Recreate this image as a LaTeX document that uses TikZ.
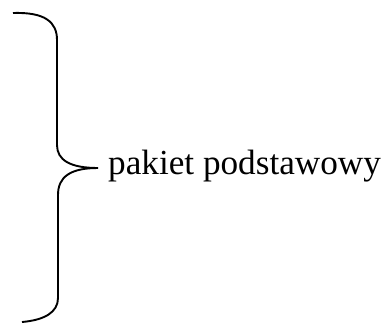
\documentclass[tikz,border=0pt]{standalone}
\usepackage{fontspec}
\setmainfont{Liberation Serif}
\usetikzlibrary{positioning}
\begin{document}
\begin{tikzpicture}[x=1pt,y=-1pt]
        \useasboundingbox (0,0) rectangle (385,322);
        \coordinate (tip) at (98,168);
        \draw[line width=1.9pt] (13,13) .. controls (45,12) and (57,22) .. (57,40) -- (57,145)
            .. controls (57,160) and (70,168) .. (tip)
            .. controls (70,168) and (58,177) .. (58,195) -- (58,298)
            .. controls (58,312) and (45,320) .. (22,322);
        \node[anchor=base west,inner sep=0pt,font=\fontsize{35.2}{40}\selectfont] (label) at (108,174) {pakiet podstawowy};
    \end{tikzpicture}
\end{document}
